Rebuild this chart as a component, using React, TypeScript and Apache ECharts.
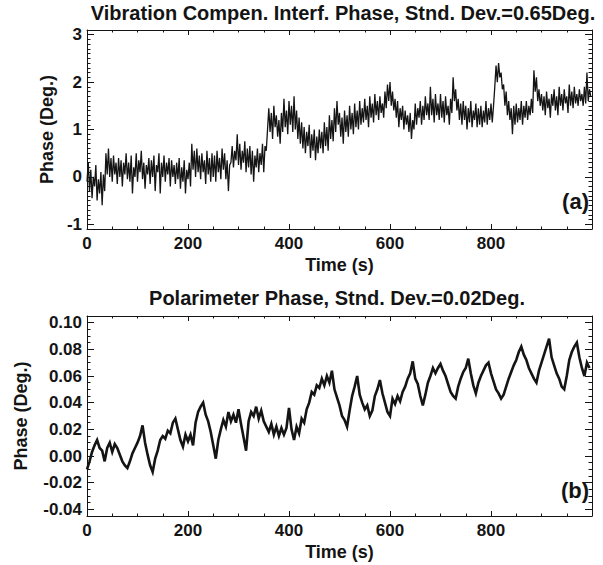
import React, { useEffect, useRef } from 'react';
import * as echarts from 'echarts';

// ---- data ----
const INTERF_STEP = 2.5; // seconds between samples, panel (a)
const POL_STEP = 5; // seconds between samples, panel (b)

// Panel (a): vibration-compensated interferometer phase (deg), one row = 25 s
const interfPhase = [
  -0.1, 0.3, -0.3, 0.15, -0.45, 0.0, -0.2, 0.25, -0.5, -0.05,
  -0.35, 0.1, -0.6, 0.05, -0.3, 0.5, 0.05, 0.6, 0.0, 0.4,
  -0.1, 0.45, 0.05, 0.3, -0.15, 0.4, 0.0, 0.35, -0.2, 0.3,
  0.05, 0.5, -0.05, 0.3, -0.1, 0.45, -0.35, 0.2, 0.0, 0.5,
  -0.1, 0.35, 0.1, 0.55, -0.05, 0.3, -0.25, 0.25, 0.05, 0.4,
  -0.15, 0.35, 0.0, 0.45, -0.3, 0.25, 0.1, 0.5, -0.35, 0.3,
  0.0, 0.45, -0.1, 0.3, 0.05, 0.4, -0.2, 0.35, 0.0, 0.25,
  -0.15, 0.3, -0.05, 0.4, -0.25, 0.2, -0.1, 0.35, -0.35, 0.15,
  -0.05, 0.3, -0.2, 0.7, 0.15, 0.55, 0.0, 0.6, 0.1, 0.45,
  -0.05, 0.5, 0.1, 0.35, -0.15, 0.55, 0.05, 0.4, -0.1, 0.5,
  0.0, 0.45, -0.1, 0.55, 0.1, 0.4, -0.05, 0.6, 0.15, 0.5,
  -0.05, 0.35, -0.3, 0.25, 0.3, 0.65, 0.2, 0.55, 0.35, 0.9,
  0.25, 0.7, 0.15, 0.55, 0.3, 0.75, 0.1, 0.6, 0.2, 0.65,
  0.05, 0.55, -0.1, 0.45, 0.2, 0.6, 0.1, 0.5, 0.25, 0.7,
  0.1, 0.65, 0.55, 1.0, 1.45, 0.95, 1.35, 0.8, 1.5, 1.05,
  1.3, 0.85, 1.2, 0.7, 1.35, 0.95, 1.65, 1.05, 1.4, 0.9,
  1.6, 1.1, 1.5, 0.95, 1.7, 1.0, 1.4, 0.8, 1.25, 0.7,
  1.15, 0.6, 1.05, 0.5, 0.95, 0.65, 1.1, 0.4, 0.9, 0.55,
  1.0, 0.35, 0.85, 0.5, 1.0, 0.6, 0.95, 0.5, 1.15, 0.65,
  1.05, 0.55, 1.3, 0.8, 1.2, 0.75, 1.45, 0.95, 1.6, 1.1,
  1.35, 0.85, 1.25, 0.7, 1.4, 0.95, 1.3, 0.85, 1.5, 1.0,
  1.35, 0.9, 1.55, 1.05, 1.4, 1.0, 1.6, 1.1, 1.45, 1.15,
  1.65, 1.2, 1.5, 1.05, 1.7, 1.25, 1.55, 1.15, 1.75, 1.3,
  1.6, 1.2, 1.7, 1.35, 1.55, 1.25, 1.8, 1.45, 1.95, 1.6,
  2.0, 1.5, 1.8, 1.4, 1.65, 1.25, 1.6, 1.05, 1.45, 1.2,
  1.5, 1.0, 1.4, 1.1, 1.3, 0.95, 1.35, 0.8, 1.2, 1.0,
  1.55, 1.1, 1.45, 1.25, 1.6, 1.1, 1.5, 1.2, 1.7, 1.3,
  1.55, 1.2, 1.9, 1.3, 1.65, 1.15, 1.75, 1.3, 1.55, 1.2,
  1.75, 1.25, 1.6, 1.15, 1.7, 1.3, 1.5, 1.1, 1.65, 1.35,
  2.1, 1.6, 1.85, 1.4, 1.65, 1.2, 1.55, 1.1, 1.6, 1.2,
  1.5, 1.0, 1.45, 1.15, 1.6, 1.05, 1.4, 1.2, 1.55, 1.05,
  1.45, 1.1, 1.5, 1.05, 1.4, 1.15, 1.6, 1.1, 1.45, 1.2,
  1.55, 1.15, 1.5, 1.9, 2.35, 2.0, 2.4, 2.1, 2.2, 1.85,
  1.95, 1.5, 1.8, 1.3, 1.6, 1.2, 1.45, 0.9, 1.5, 1.1,
  1.55, 1.15, 1.45, 1.2, 1.6, 1.1, 1.5, 1.25, 1.6, 1.2,
  1.5, 1.3, 1.65, 1.35, 2.25, 1.8, 2.1, 1.6, 1.85, 1.5,
  1.75, 1.4, 1.7, 1.3, 1.8, 1.45, 1.65, 1.25, 1.75, 1.5,
  1.85, 1.4, 1.7, 1.3, 1.9, 1.5, 1.75, 1.4, 1.85, 1.55,
  1.7, 1.35, 1.95, 1.5, 1.8, 1.45, 1.9, 1.55, 1.75, 1.5,
  1.85, 1.6, 1.75, 1.5, 1.9, 1.55, 2.2, 1.6, 1.85, 1.7,
];

// Panel (b): polarimeter phase (deg), one row = 50 s
const polPhase = [
  -0.010, -0.004, 0.003, 0.008, 0.012, 0.006, 0.004, -0.004, 0.006, 0.010,
  0.003, 0.009, 0.006, 0.001, -0.004, -0.007, -0.009, -0.004, 0.002, 0.006,
  0.010, 0.015, 0.023, 0.010, 0.001, -0.007, -0.012, -0.002, 0.004, 0.012,
  0.015, 0.013, 0.019, 0.017, 0.025, 0.028, 0.020, 0.012, 0.007, 0.016,
  0.011, 0.016, 0.008, 0.025, 0.033, 0.037, 0.040, 0.031, 0.026, 0.018,
  0.008, -0.002, 0.012, 0.020, 0.027, 0.022, 0.033, 0.026, 0.031, 0.025,
  0.035, 0.024, 0.014, 0.004, 0.026, 0.033, 0.030, 0.037, 0.028, 0.034,
  0.026, 0.022, 0.018, 0.024, 0.016, 0.022, 0.015, 0.021, 0.016, 0.021,
  0.036, 0.020, 0.012, 0.022, 0.017, 0.028, 0.025, 0.035, 0.040, 0.048,
  0.046, 0.053, 0.051, 0.058, 0.053, 0.060, 0.055, 0.064, 0.050, 0.044,
  0.038, 0.030, 0.027, 0.022, 0.034, 0.045, 0.052, 0.060, 0.046, 0.040,
  0.035, 0.038, 0.030, 0.034, 0.045, 0.050, 0.057, 0.047, 0.040, 0.033,
  0.030, 0.043, 0.039, 0.045, 0.041, 0.048, 0.052, 0.058, 0.062, 0.071,
  0.058, 0.054, 0.045, 0.038, 0.046, 0.055, 0.060, 0.066, 0.062, 0.066,
  0.069, 0.064, 0.060, 0.054, 0.048, 0.045, 0.043, 0.052, 0.058, 0.063,
  0.066, 0.073, 0.062, 0.053, 0.047, 0.055, 0.060, 0.064, 0.068, 0.070,
  0.062, 0.056, 0.050, 0.047, 0.043, 0.046, 0.052, 0.058, 0.063, 0.068,
  0.072, 0.078, 0.082, 0.076, 0.072, 0.066, 0.062, 0.058, 0.055, 0.064,
  0.070, 0.076, 0.082, 0.088, 0.074, 0.068, 0.062, 0.058, 0.052, 0.050,
  0.060, 0.072, 0.078, 0.082, 0.085, 0.074, 0.066, 0.060, 0.070, 0.066,
];

const timeTicks = [0, 200, 400, 600, 800];
const interfTicks = [-1, 0, 1, 2, 3];
const polTicks = [-0.04, -0.02, 0.0, 0.02, 0.04, 0.06, 0.08, 0.10];

const titleA = 'Vibration Compen. Interf. Phase, Stnd. Dev.=0.65Deg.';
const titleB = 'Polarimeter Phase, Stnd. Dev.=0.02Deg.';
const xName = 'Time (s)';
const yName = 'Phase (Deg.)';

// ---- styling / layout ----
const FONT = '"Liberation Sans", Arial, Helvetica, sans-serif';
const INK = '#141414';

function steps(a: number, b: number, step: number): number[] {
  const n = Math.round((b - a) / step);
  const out: number[] = [];
  for (let i = 0; i <= n; i++) out.push(+(a + i * step).toFixed(6));
  return out;
}

const panels = [
  {
    grid: { left: 87, top: 30, width: 505, height: 199 },
    ymin: -1.1, ymax: 3.1, ticks: interfTicks, minor: steps(-1.1, 3.1, 0.1),
    fmt: (v: number) => String(Math.round(v)),
    nameGap: 26, values: interfPhase, step: INTERF_STEP, lw: 1.3,
    title: titleA, titleX: 343, titleY: 13, tag: '(a)', tagY: 201,
  },
  {
    grid: { left: 87, top: 316, width: 505, height: 200 },
    ymin: -0.045, ymax: 0.105, ticks: polTicks, minor: steps(-0.045, 0.105, 0.005),
    fmt: (v: number) => v.toFixed(2),
    nameGap: 57, values: polPhase, step: POL_STEP, lw: 2.6,
    title: titleB, titleX: 337, titleY: 298, tag: '(b)', tagY: 490,
  },
];

const XMIN = 0;
const XMAX = 1000;
const xMinor = steps(0, 1000, 50);

export default function App() {
  const ref = useRef<HTMLDivElement>(null);

  useEffect(() => {
    if (!ref.current) return;
    const chart = echarts.init(ref.current, undefined, { renderer: 'svg' });

    const axisLine = { show: true, onZero: false, lineStyle: { color: INK, width: 1 } };
    const tickFont = { fontFamily: FONT, fontWeight: 'bold' as const, fontSize: 17, color: INK };
    const nameFont = { fontFamily: FONT, fontWeight: 'bold' as const, fontSize: 18, color: INK };

    const grid: any[] = [];
    const xAxis: any[] = [];
    const yAxis: any[] = [];
    const series: any[] = [];
    const graphic: any[] = [];

    // major grids (0, 1): box, labels, major ticks
    panels.forEach((p, g) => {
      grid.push({ ...p.grid });
      const xBase = { type: 'value', gridIndex: g, min: XMIN, max: XMAX, splitLine: { show: false }, axisLine };
      const majorX = { show: true, inside: true, length: 5, customValues: timeTicks, lineStyle: { color: INK } };
      xAxis.push({
        ...xBase, position: 'bottom', name: xName, nameLocation: 'middle', nameGap: 27,
        nameTextStyle: nameFont,
        axisTick: majorX,
        axisLabel: { show: true, customValues: timeTicks, margin: 6, ...tickFont, formatter: (v: number) => String(v) },
      });
      xAxis.push({ ...xBase, position: 'top', axisTick: majorX, axisLabel: { show: false } });

      const yBase = { type: 'value', gridIndex: g, min: p.ymin, max: p.ymax, splitLine: { show: false }, axisLine };
      const majorY = { show: true, inside: true, length: 7, customValues: p.ticks, lineStyle: { color: INK } };
      yAxis.push({
        ...yBase, position: 'left', name: yName, nameLocation: 'middle', nameGap: p.nameGap,
        nameTextStyle: nameFont,
        axisTick: majorY,
        axisLabel: { show: true, customValues: p.ticks, margin: 5, ...tickFont, formatter: p.fmt },
      });
      yAxis.push({ ...yBase, position: 'right', axisTick: majorY, axisLabel: { show: false } });

      series.push({
        type: 'line',
        xAxisIndex: g * 2,
        yAxisIndex: g * 2,
        showSymbol: false,
        symbol: 'none',
        lineStyle: { color: INK, width: p.lw, join: 'miter' },
        data: p.values.map((v, i) => [i * p.step, v]),
      });

      graphic.push({
        type: 'text',
        x: p.titleX,
        y: p.titleY,
        style: {
          text: p.title, align: 'center', verticalAlign: 'middle',
          fontFamily: FONT, fontWeight: 'bold', fontSize: 20, fill: INK,
        },
      });
      graphic.push({
        type: 'text',
        x: p.grid.left + p.grid.width - 3,
        y: p.tagY,
        style: {
          text: p.tag, align: 'right', verticalAlign: 'middle',
          fontFamily: FONT, fontWeight: 'bold', fontSize: 22, fill: INK,
        },
      });
    });

    // overlay grids (2, 3): minor ticks only
    panels.forEach((p, g) => {
      const gi = panels.length + g;
      grid.push({ ...p.grid });
      const noLine = { show: false, onZero: false };
      const xBase = { type: 'value', gridIndex: gi, min: XMIN, max: XMAX, splitLine: { show: false }, axisLine: noLine, axisLabel: { show: false } };
      const minorX = { show: true, inside: true, length: 2.5, customValues: xMinor, lineStyle: { color: INK } };
      xAxis.push({ ...xBase, position: 'bottom', axisTick: minorX });
      xAxis.push({ ...xBase, position: 'top', axisTick: minorX });
      const yBase = { type: 'value', gridIndex: gi, min: p.ymin, max: p.ymax, splitLine: { show: false }, axisLine: noLine, axisLabel: { show: false } };
      const minorY = { show: true, inside: true, length: 3.5, customValues: p.minor, lineStyle: { color: INK } };
      yAxis.push({ ...yBase, position: 'left', axisTick: minorY });
      yAxis.push({ ...yBase, position: 'right', axisTick: minorY });
    });

    chart.setOption({
      animation: false,
      backgroundColor: '#ffffff',
      grid,
      xAxis,
      yAxis,
      series,
      graphic,
    });

    return () => chart.dispose();
  }, []);

  return (
    <div
      ref={ref}
      style={{ position: 'fixed', left: 0, top: 0, width: 603, height: 565, background: '#fff' }}
    />
  );
}
